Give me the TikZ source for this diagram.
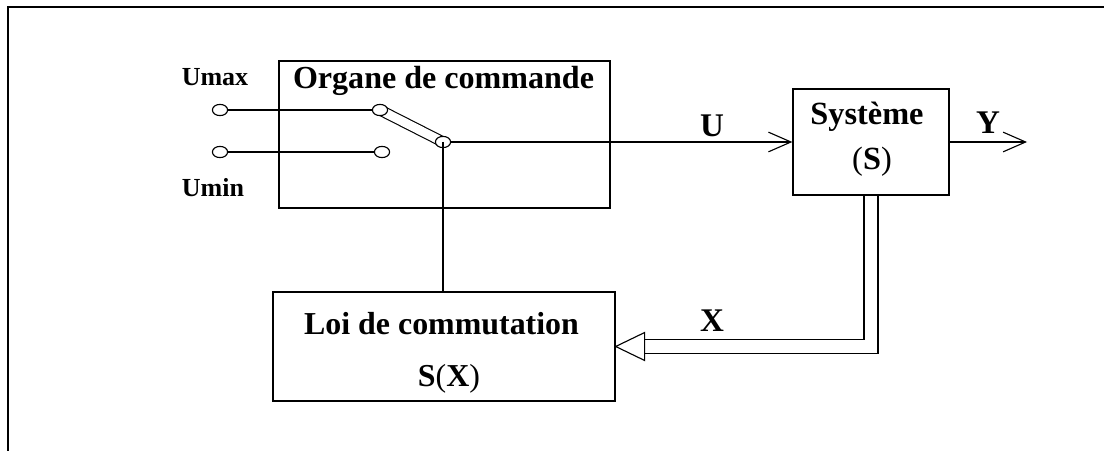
\documentclass[tikz,border=0pt]{standalone}
\usepackage{fontspec}
\setmainfont{Liberation Serif}
\usepackage{tikz}
\usetikzlibrary{positioning, shapes.geometric, arrows.meta, calc, backgrounds}
\tikzset{
    box/.style={draw, line width=0.9pt, rectangle, inner sep=0pt},
    term/.style={draw, ellipse, fill=white, line width=0.8pt, minimum width=0.38cm, minimum height=0.28cm, inner sep=0pt},
    lbl/.style={font=\fontsize{23.5}{28}\selectfont\bfseries, anchor=base, inner sep=0pt},
    smalllbl/.style={font=\fontsize{18.5}{22}\selectfont\bfseries, anchor=base, inner sep=0pt},
    wire/.style={line width=0.8pt},
    arrow/.style={wire, -{Straight Barb[length=16pt, width=14pt]}}
}
\begin{document}
\begin{tikzpicture}[x=0.025cm, y=-0.025cm]
    \useasboundingbox (0,0) rectangle (1104,451);
    % Frame
    \draw[line width=1.4pt] (8,451) -- (8,7) -- (1104,7);

    % Blocks
    \node[box, minimum width=8.275cm, minimum height=3.675cm] (organe) at (444.5,134.5) {};
    \node[lbl, font=\fontsize{22.8}{27}\selectfont\bfseries] (organetitle) at (443.5,89) {Organe de commande};
    \node[box, minimum width=3.9cm, minimum height=2.65cm] (sys) at (871,142) {};
    \node[lbl, font=\fontsize{23}{27}\selectfont\bfseries] (systitle) at (867,125) {Système};
    \node[lbl, font=\fontsize{23}{27}\selectfont\bfseries] (sysname) at (872,170) {\textmd{(}S\textmd{)}};
    \node[box, minimum width=8.55cm, minimum height=2.725cm] (loi) at (444,346.5) {};
    \node[lbl, font=\fontsize{22.7}{27}\selectfont\bfseries] (loititle) at (441.5,335) {Loi de commutation};
    \node[lbl, font=\fontsize{22.7}{27}\selectfont\bfseries] (loiname) at (449,387) {S\textmd{(}X\textmd{)}};

    % Switch
    \node[term] (umaxin) at (220,110) {};
    \node[term] (uminin) at (220,152) {};
    \node[term] (ca) at (380,110) {};
    \node[term] (cb) at (382,152) {};
    \node[term] (pivot) at (443,142) {};
    \draw[wire] (umaxin) -- (ca);
    \draw[wire] (uminin) -- (cb);
    \begin{scope}[on background layer]
        \draw[wire, double, double distance=6.3pt] (ca.center) -- (pivot.center);
    \end{scope}
    \node[smalllbl] (umax) at (215,86) {Umax};
    \node[smalllbl] (umin) at (213,197) {Umin};

    % Command and output
    \draw[arrow] (pivot) -- (sys.west);
    \node[lbl] (ulbl) at (712,137) {U};
    \draw[wire] (pivot.center) -- (pivot.center |- loi.north);
    \coordinate (yout) at (1027,142);
    \draw[arrow] (sys.east) -- (yout);
    \node[lbl] (ylbl) at (988,134) {Y};

    % Feedback
    \coordinate (tip) at (loi.east);
    \draw[wire] (tip) -- ++(29,-14) -- ++(0,28) -- cycle;
    \draw[wire] ($(sys.south)+(-7,0)$) |- ($(tip)+(29,-7)$);
    \draw[wire] ($(sys.south)+(7,0)$) |- ($(tip)+(29,7)$);
    \node[lbl] (xlbl) at (712,332) {X};
\end{tikzpicture}
\end{document}
